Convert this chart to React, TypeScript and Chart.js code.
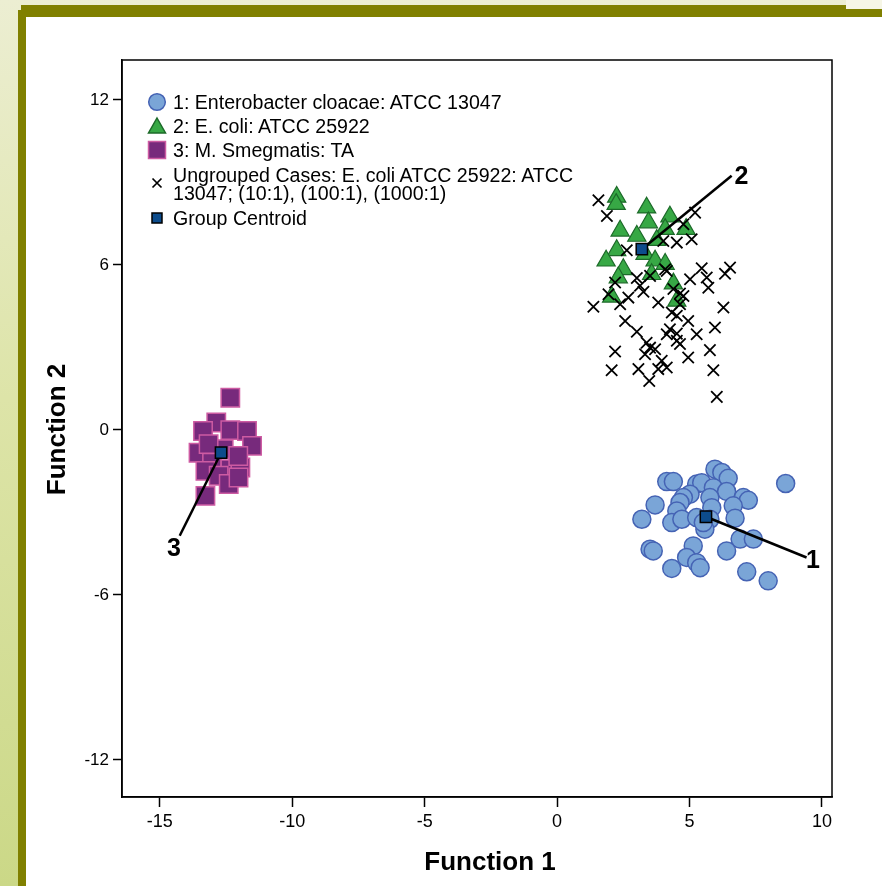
import React, { useEffect, useRef } from "react";
import { Chart, registerables } from "chart.js";

Chart.register(...registerables);

// ---------- DATA ----------
const legendLabels = [
  "1: Enterobacter cloacae: ATCC 13047",
  "2: E. coli: ATCC 25922",
  "3: M. Smegmatis: TA",
  "Ungrouped Cases: E. coli ATCC 25922: ATCC\n13047; (10:1), (100:1), (1000:1)",
  "Group Centroid",
];

const xAxisTitle = "Function 1";
const yAxisTitle = "Function 2";

const xTicks = [-15, -10, -5, 0, 5, 10];
const yTicks = [12, 6, 0, -6, -12];
const xRange = [-16.43, 10.38];
const yRange = [-13.35, 13.45];

const group1Points: [number, number][] = [
  [5.96, -1.43], [6.22, -1.55], [6.46, -1.76], [4.14, -1.88], [4.39, -1.88],
  [8.63, -1.95], [5.27, -1.97], [5.46, -1.92], [5.9, -2.1], [6.4, -2.24],
  [5.02, -2.34], [4.77, -2.46], [5.77, -2.46], [7.03, -2.46], [7.22, -2.56],
  [3.7, -2.73], [4.64, -2.64], [6.65, -2.76], [5.84, -2.83], [4.52, -2.95],
  [3.2, -3.25], [4.33, -3.37], [4.71, -3.25], [5.27, -3.19], [5.77, -3.25],
  [6.72, -3.21], [5.58, -3.61], [5.52, -3.37], [6.91, -3.97], [7.41, -3.97],
  [3.51, -4.34], [3.63, -4.4], [5.14, -4.22], [6.4, -4.4], [4.89, -4.64],
  [5.27, -4.83], [5.4, -5.01], [4.33, -5.04], [7.16, -5.16], [7.97, -5.49],
];

const group2Points: [number, number][] = [
  [2.25, 8.47], [2.23, 8.21], [3.38, 8.08], [4.26, 7.75], [3.45, 7.54],
  [2.38, 7.24], [3.01, 7.05], [4.08, 7.3], [4.87, 7.3], [3.76, 6.9],
  [2.25, 6.53], [3.32, 6.39], [1.85, 6.15], [2.5, 5.84], [3.7, 6.15],
  [4.08, 6.03], [2.31, 5.54], [3.57, 5.66], [4.39, 5.32], [2.06, 4.84],
  [4.52, 4.69],
];

const group3Points: [number, number][] = [
  [-12.34, 1.17], [-12.87, 0.27], [-13.37, -0.04], [-12.34, -0.01], [-11.71, -0.04],
  [-11.52, -0.58], [-13.54, -0.83], [-12.59, -0.7], [-13.03, -1.19], [-12.34, -1.43],
  [-11.96, -1.37], [-13.28, -1.49], [-12.78, -1.67], [-12.4, -1.97], [-12.03, -1.73],
  [-13.28, -2.4], [-13.16, -0.52], [-12.04, -0.95],
];

const ungroupedPoints: [number, number][] = [
  [1.56, 8.35], [1.88, 7.78], [5.21, 7.9], [4.77, 7.48], [5.08, 6.93],
  [4.01, 6.87], [4.52, 6.81], [2.63, 6.53], [5.46, 5.88], [6.53, 5.9],
  [6.34, 5.68], [4.08, 5.84], [4.14, 5.78], [3.51, 5.6], [5.02, 5.48],
  [5.65, 5.54], [5.71, 5.17], [3.01, 5.52], [2.19, 5.36], [3.13, 5.24],
  [1.94, 4.93], [3.26, 5.02], [4.64, 4.96], [4.77, 4.87], [4.39, 5.12],
  [1.37, 4.48], [2.38, 4.57], [2.69, 4.81], [3.82, 4.63], [4.64, 4.57],
  [6.28, 4.45], [4.33, 4.27], [4.52, 4.15], [2.57, 3.96], [4.95, 3.96],
  [3.01, 3.57], [4.26, 3.66], [4.14, 3.48], [4.52, 3.5], [5.27, 3.48],
  [5.96, 3.72], [3.38, 3.17], [3.51, 2.99], [3.7, 2.93], [4.64, 3.12],
  [2.19, 2.85], [3.32, 2.75], [5.77, 2.9], [4.95, 2.63], [3.95, 2.51],
  [2.06, 2.17], [3.07, 2.21], [3.82, 2.21], [4.14, 2.27], [5.9, 2.17],
  [3.48, 1.78], [6.03, 1.2], [4.52, 3.24],
];

const centroidPoints: [number, number][] = [
  [5.62, -3.16],
  [3.2, 6.57],
  [-12.69, -0.83],
];

const groupNumbers = ["1", "2", "3"];
const labelLineEnds: [number, number][] = [
  [9.42, -4.64],
  [6.59, 9.24],
  [-14.25, -3.85],
];
const labelTextPos: [number, number][] = [
  [9.66, -4.73],
  [6.96, 9.24],
  [-14.47, -4.29],
];

// ---------- STYLE ----------
const FONT = '"Liberation Sans", Arial, Helvetica, sans-serif';
const BLUE_FILL = "#7aa5d7";
const BLUE_EDGE = "#4563b4";
const GREEN_FILL = "#37a845";
const GREEN_EDGE = "#1c6a29";
const PURPLE_FILL = "#772a7c";
const PURPLE_EDGE = "#cd5ba2";
const CENTROID_FILL = "#0d4c8c";

const toPts = (a: [number, number][]) => a.map(([x, y]) => ({ x, y }));

const framePlugin = {
  id: "frameBox",
  beforeDatasetsDraw(chart: any) {
    const { ctx, chartArea } = chart;
    ctx.save();
    ctx.strokeStyle = "#000";
    ctx.lineWidth = 1.5;
    ctx.strokeRect(
      chartArea.left,
      chartArea.top,
      chartArea.right - chartArea.left,
      chartArea.bottom - chartArea.top
    );
    ctx.restore();
  },
};

const axisTitlePlugin = {
  id: "axisTitles",
  afterDraw(chart: any) {
    const { ctx, chartArea } = chart;
    ctx.save();
    ctx.fillStyle = "#000";
    ctx.font = `bold 26px ${FONT}`;
    ctx.textAlign = "center";
    ctx.textBaseline = "middle";
    const cx = (chartArea.left + chartArea.right) / 2 + 13;
    ctx.fillText(xAxisTitle, cx, chartArea.bottom + 66);
    const cy = (chartArea.top + chartArea.bottom) / 2 + 1;
    ctx.translate(chartArea.left - 64, cy);
    ctx.rotate(-Math.PI / 2);
    ctx.fillText(yAxisTitle, 0, 0);
    ctx.restore();
  },
};

const groupLabelPlugin = {
  id: "groupLabels",
  afterDatasetsDraw(chart: any) {
    const { ctx, scales } = chart;
    ctx.save();
    ctx.fillStyle = "#000";
    ctx.font = `bold 25px ${FONT}`;
    ctx.textAlign = "center";
    ctx.textBaseline = "middle";
    groupNumbers.forEach((t, i) => {
      const [x, y] = labelTextPos[i];
      ctx.fillText(t, scales.x.getPixelForValue(x), scales.y.getPixelForValue(y) + 1);
    });
    ctx.restore();
  },
};

function LegendMarker({ kind }: { kind: number }) {
  const common: React.CSSProperties = { position: "absolute", left: 0, top: 0 };
  if (kind === 0)
    return (
      <svg width={20} height={20} style={common}>
        <circle cx={10} cy={10} r={8.3} fill={BLUE_FILL} stroke={BLUE_EDGE} strokeWidth={1.5} />
      </svg>
    );
  if (kind === 1)
    return (
      <svg width={20} height={20} style={common}>
        <polygon points="10,2 18.5,17 1.5,17" fill={GREEN_FILL} stroke={GREEN_EDGE} strokeWidth={1.5} />
      </svg>
    );
  if (kind === 2)
    return (
      <svg width={20} height={20} style={common}>
        <rect x={1.5} y={1.5} width={17} height={17} fill={PURPLE_FILL} stroke={PURPLE_EDGE} strokeWidth={1.5} />
      </svg>
    );
  if (kind === 3)
    return (
      <svg width={20} height={20} style={common}>
        <path d="M5.5,5.5 L14.5,14.5 M14.5,5.5 L5.5,14.5" stroke="#000" strokeWidth={1.7} />
      </svg>
    );
  return (
    <svg width={20} height={20} style={common}>
      <rect x={5} y={5} width={10} height={10} fill={CENTROID_FILL} stroke="#000" strokeWidth={1.5} />
    </svg>
  );
}

const legendCenters = [101.5, 126, 150, 183, 218];
const legendTextTops = [90, 114, 138, 166, 206];

export default function App() {
  const canvasRef = useRef<HTMLCanvasElement | null>(null);

  useEffect(() => {
    if (!canvasRef.current) return;
    const lineSets = centroidPoints.map((c, i) => ({
      label: "line" + i,
      data: toPts([c, labelLineEnds[i]]),
      showLine: true,
      borderColor: "#000",
      borderWidth: 2.5,
      pointRadius: 0,
      pointHoverRadius: 0,
      fill: false,
      order: 1,
    }));
    const chart = new Chart(canvasRef.current, {
      type: "scatter",
      data: {
        datasets: [
          {
            label: legendLabels[4],
            data: toPts(centroidPoints),
            pointStyle: "rect",
            pointRadius: 8,
            backgroundColor: CENTROID_FILL,
            borderColor: "#000",
            borderWidth: 1.5,
            order: 0,
          },
          ...lineSets,
          {
            label: legendLabels[3],
            data: toPts(ungroupedPoints),
            pointStyle: "crossRot",
            pointRadius: 8,
            borderColor: "#000",
            backgroundColor: "#000",
            borderWidth: 1.8,
            order: 2,
          },
          {
            label: legendLabels[2],
            data: toPts(group3Points),
            pointStyle: "rect",
            pointRadius: 13,
            backgroundColor: PURPLE_FILL,
            borderColor: PURPLE_EDGE,
            borderWidth: 1.5,
            order: 3,
          },
          {
            label: legendLabels[1],
            data: toPts(group2Points),
            pointStyle: "triangle",
            pointRadius: 10.5,
            backgroundColor: GREEN_FILL,
            borderColor: GREEN_EDGE,
            borderWidth: 1.2,
            order: 4,
          },
          {
            label: legendLabels[0],
            data: toPts(group1Points),
            pointStyle: "circle",
            pointRadius: 9,
            backgroundColor: BLUE_FILL,
            borderColor: BLUE_EDGE,
            borderWidth: 1.5,
            order: 5,
          },
        ] as any,
      },
      options: {
        responsive: false,
        animation: false,
        devicePixelRatio: 1,
        layout: { padding: { top: 60, right: 50, left: 0, bottom: 0 } },
        plugins: { legend: { display: false }, tooltip: { enabled: false } },
        scales: {
          x: {
            type: "linear",
            position: "bottom",
            min: xRange[0],
            max: xRange[1],
            afterBuildTicks: (s: any) => {
              s.ticks = xTicks.map((v) => ({ value: v }));
            },
            afterFit: (s: any) => {
              s.height = 89;
            },
            ticks: {
              color: "#000",
              font: { family: FONT, size: 18 },
              padding: 4,
              maxRotation: 0,
              autoSkip: false,
            },
            grid: {
              display: true,
              drawOnChartArea: false,
              drawTicks: true,
              tickLength: 10,
              tickColor: "#000",
              tickWidth: 1.5,
            },
            border: { display: true, color: "#000", width: 1.5 },
            title: { display: false, text: xAxisTitle },
          },
          y: {
            type: "linear",
            min: yRange[0],
            max: yRange[1],
            afterBuildTicks: (s: any) => {
              s.ticks = yTicks.map((v) => ({ value: v }));
            },
            afterFit: (s: any) => {
              s.width = 122;
            },
            ticks: {
              color: "#000",
              font: { family: FONT, size: 17 },
              padding: 4,
              autoSkip: false,
            },
            grid: {
              display: true,
              drawOnChartArea: false,
              drawTicks: true,
              tickLength: 9,
              tickColor: "#000",
              tickWidth: 1.5,
            },
            border: { display: true, color: "#000", width: 1.5 },
            title: { display: false, text: yAxisTitle },
          },
        },
      } as any,
      plugins: [framePlugin, groupLabelPlugin, axisTitlePlugin],
    });
    return () => chart.destroy();
  }, []);

  return (
    <div
      style={{
        position: "absolute",
        left: 0,
        top: 0,
        width: 882,
        height: 886,
        overflow: "hidden",
        background: "linear-gradient(to bottom, #eceed2 0%, #dde4a8 45%, #cbd887 100%)",
        fontFamily: FONT,
      }}
    >
      <div style={{ position: "absolute", left: 846, top: 0, width: 36, height: 9, background: "#f6f6e6" }} />
      <div style={{ position: "absolute", left: 21, top: 5, width: 825, height: 12, background: "#808000" }} />
      <div style={{ position: "absolute", left: 846, top: 9, width: 36, height: 8, background: "#808000" }} />
      <div style={{ position: "absolute", left: 18, top: 10, width: 8, height: 876, background: "#808000" }} />
      <div style={{ position: "absolute", left: 26, top: 17, width: 856, height: 869, background: "#ffffff" }} />
      <canvas
        ref={canvasRef}
        width={882}
        height={886}
        style={{ position: "absolute", left: 0, top: 0, width: 882, height: 886 }}
      />
      {legendLabels.map((lab, i) => (
        <React.Fragment key={i}>
          <div
            style={{
              position: "absolute",
              left: 147,
              top: legendCenters[i] - 10,
              width: 20,
              height: 20,
            }}
          >
            <LegendMarker kind={i} />
          </div>
          <div
            style={{
              position: "absolute",
              left: 173,
              top: legendTextTops[i],
              fontSize: 19.6,
              lineHeight: i === 3 ? "18px" : "24px",
              whiteSpace: "pre",
              color: "#000",
            }}
          >
            {lab}
          </div>
        </React.Fragment>
      ))}
    </div>
  );
}
